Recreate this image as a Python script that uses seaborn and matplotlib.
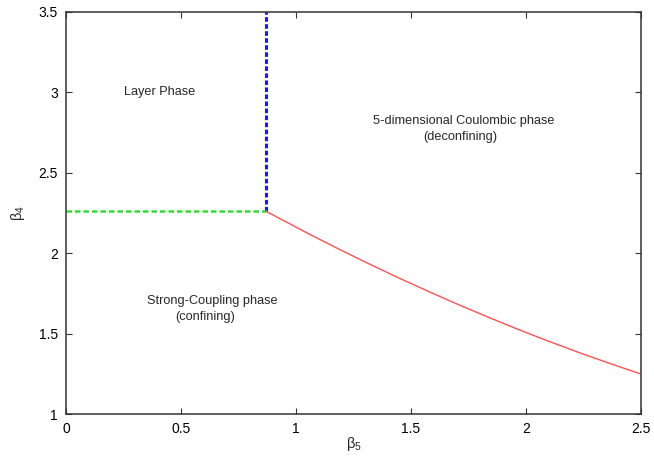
import matplotlib
matplotlib.use('Agg')
import matplotlib.pyplot as plt
import seaborn as sns
from matplotlib.ticker import FormatStrFormatter

# phase boundaries
beta5_c = 0.87
beta4_c = 2.26
layer_x = [beta5_c, beta5_c]
layer_y = [beta4_c, 3.5]
strong_x = [0.0, beta5_c]
strong_y = [beta4_c, beta4_c]
coul_x = [0.87, 1.06, 1.19, 1.32, 1.45, 1.58, 1.71, 1.84, 1.97, 2.10, 2.235, 2.37, 2.5]
coul_y = [2.26, 2.117, 2.023, 1.932, 1.844, 1.760, 1.678, 1.600, 1.524, 1.452, 1.380, 1.312, 1.249]

x_ticks = [0, 0.5, 1, 1.5, 2, 2.5]
y_ticks = [1, 1.5, 2, 2.5, 3, 3.5]

sns.set_style('ticks')
plt.rcParams['font.family'] = ['Liberation Sans', 'DejaVu Sans']
plt.rcParams['mathtext.fontset'] = 'custom'
plt.rcParams['mathtext.rm'] = 'Liberation Sans'
plt.rcParams['mathtext.it'] = 'Liberation Sans'
plt.rcParams['mathtext.default'] = 'regular'

fig = plt.figure(figsize=(6.54, 4.57), dpi=100)
ax = fig.add_axes([0.101, 0.094, 0.879, 0.880])

sns.lineplot(x=layer_x, y=layer_y, ax=ax, color='#1a1aee', lw=2.2,
             linestyle=(0, (1.5, 0.8)), sort=False, estimator=None)
sns.lineplot(x=strong_x, y=strong_y, ax=ax, color='#33dd33', lw=1.8,
             linestyle=(0, (2.2, 1.2)), sort=False, estimator=None)
sns.lineplot(x=coul_x, y=coul_y, ax=ax, color='#ff5050', lw=1.0,
             sort=False, estimator=None)

ax.set_xlim(0, 2.5)
ax.set_ylim(1, 3.5)
ax.set_xticks(x_ticks)
ax.set_yticks(y_ticks)
ax.xaxis.set_major_formatter(FormatStrFormatter('%g'))
ax.yaxis.set_major_formatter(FormatStrFormatter('%g'))
ax.tick_params(direction='in', top=True, right=True, length=4, width=0.8,
               labelsize=10, pad=6, colors='#333333', labelcolor='black')
for s in ax.spines.values():
    s.set_color('#333333')
    s.set_linewidth(1.1)

ax.set_xlabel(r'$\beta_5$', fontsize=10.5, labelpad=-1)
ax.set_ylabel(r'$\beta_4$', fontsize=10.5, labelpad=8)

ax.text(0.409, 3.002, 'Layer Phase', ha='center', va='center', fontsize=9.2)
ax.text(1.730, 2.822, '5-dimensional Coulombic phase', ha='center', va='center', fontsize=9.2)
ax.text(1.713, 2.723, '(deconfining)', ha='center', va='center', fontsize=9.2)
ax.text(0.635, 1.703, 'Strong-Coupling phase', ha='center', va='center', fontsize=9.2)
ax.text(0.604, 1.603, '(confining)', ha='center', va='center', fontsize=9.2)

fig.savefig('out.png', dpi=100)
